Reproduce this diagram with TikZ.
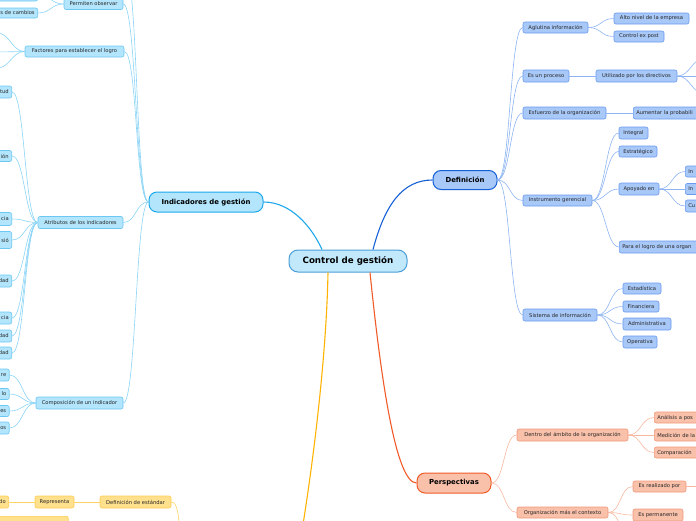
\documentclass[tikz,border=0pt]{standalone}
\usepackage{fontspec}
\setmainfont{DejaVu Sans}
\usetikzlibrary{calc}
\definecolor{txt}{HTML}{262626}
\definecolor{cfill}{HTML}{C2E8FB}
\definecolor{cdraw}{HTML}{4A9FD8}
\definecolor{ifill}{HTML}{B3E5FC}
\definecolor{idraw}{HTML}{6CC8F2}
\definecolor{iline}{HTML}{8AD4F6}
\definecolor{imain}{HTML}{1EA8EC}
\definecolor{dfill}{HTML}{A8C8F8}
\definecolor{ddraw}{HTML}{6A9AF0}
\definecolor{dline}{HTML}{8EB4F2}
\definecolor{dmain}{HTML}{1660D6}
\definecolor{pfill}{HTML}{F9C0AA}
\definecolor{pdraw}{HTML}{F39A7A}
\definecolor{pline}{HTML}{F8B8A0}
\definecolor{pmain}{HTML}{F05A28}
\definecolor{yfill}{HTML}{FFE08C}
\definecolor{ydraw}{HTML}{FFCC55}
\definecolor{yline}{HTML}{FFD466}
\definecolor{ymain}{HTML}{FFB300}
\newcommand\smfnt{\fontsize{5.2}{6}\selectfont}
\newcommand\myL[3]{\draw[#1] (#2.west) .. controls +(-13,0) and +(13,0) .. (#3.east);}
\newcommand\myR[3]{\draw[#1] (#2.east) .. controls +(13,0) and +(-13,0) .. (#3.west);}
\tikzset{
  bx/.style={rectangle, rounded corners=2, line width=0.6, inner xsep=3, inner ysep=0,
    minimum height=11, text=txt, font=\smfnt},
  bi/.style={bx, fill=ifill, draw=idraw},
  bd/.style={bx, fill=dfill, draw=ddraw},
  bp/.style={bx, fill=pfill, draw=pdraw},
  by/.style={bx, fill=yfill, draw=ydraw},
  cutl/.style={anchor=east, text width=40, align=right},
  cutr/.style={anchor=west, text width=90, align=left},
  ci/.style={draw=iline, line width=0.6},
  cd/.style={draw=dline, line width=0.6},
  cp/.style={draw=pline, line width=0.6},
  cy/.style={draw=yline, line width=0.6},
  topbox/.style={rectangle, rounded corners=8, line width=1, inner sep=0, text=black,
    font=\fontsize{6.9}{8}\selectfont\bfseries}
}
\begin{document}
\begin{tikzpicture}[x=1pt,y=-1pt]
\useasboundingbox (0,0) rectangle (696,520);
\clip (0,0) rectangle (696,520);
% central and level 1
\node[topbox, rounded corners=9, fill=cfill, draw=cdraw, minimum width=118, minimum height=22,
  font=\fontsize{8.7}{10}\selectfont\bfseries] (c) at (348,261) {Control de gestión};
\node[topbox, fill=ifill, draw=imain, minimum width=114, minimum height=20] (ind) at (206,202) {Indicadores de gestión};
\node[topbox, fill=dfill, draw=dmain, minimum width=64, minimum height=19] (def) at (465,180) {Definición};
\node[topbox, fill=pfill, draw=pmain, minimum width=74, minimum height=20] (per) at (454,483) {Perspectivas};
\coordinate (yoff) at (295,570);
\draw[imain, line width=1.1] (ind.east) .. controls +(28,0) and +(-10,-22) .. ($(c.north)+(-26,0)$);
\draw[dmain, line width=1.1] ($(c.north)+(25,0)$) .. controls +(12,-45) and +(-30,0) .. (def.west);
\draw[pmain, line width=1.1] ($(c.south)+(22,0)$) .. controls (380,370) and (395,483) .. (per.west);
\draw[ymain, line width=1.1] ($(c.south)+(-20,0)$) .. controls (326,380) and (305,520) .. (yoff);

% Indicadores branch
\node[bi, minimum width=59] (po) at (93.5,4) {Permiten observar};
\node[bi, minimum width=99] (fa) at (74.5,51.5) {Factores para establecer el logro};
\node[bi, minimum width=85, minimum height=12] (at) at (80.5,222.5) {Atributos de los indicadores};
\node[bi, minimum width=87, minimum height=12] (co) at (79.5,403) {Composición de un indicador};
\coordinate (ioff) at (125,-30);
\myL{ci}{ind}{po}
\myL{ci}{ind}{fa}
\myL{ci}{ind}{at}
\myL{ci}{ind}{co}
\draw[ci] (ind.west) .. controls +(-13,0) and +(13,0) .. (ioff);

\node[bi, cutl, minimum height=12] (pt) at (38,-5) {};
\node[bi, cutl, minimum height=10] (ps) at (38,13) {s de cambios};
\myL{ci}{po}{pt}
\myL{ci}{po}{ps}

\coordinate (f1) at (-3,33);
\coordinate (f2) at (-3,52);
\coordinate (f3) at (-3,68);
\foreach \t in {f1,f2,f3} {\draw[ci] (fa.west) .. controls +(-13,0) and +(13,0) .. (\t);}

\node[bi, cutl, minimum height=12] (a1) at (12,92) {tud};
\node[bi, cutl, minimum height=11] (a2) at (12,156) {ión};
\node[bi, cutl, minimum height=13] (a3) at (12,219) {cia};
\node[bi, cutl, minimum height=17] (a4) at (12,240) {sió};
\node[bi, cutl, minimum height=12] (a5) at (12,281) {dad};
\node[bi, cutl, minimum height=12] (a6) at (12,318) {cia};
\node[bi, cutl, minimum height=12] (a7) at (12,336) {dad};
\node[bi, cutl, minimum height=12] (a8) at (12,353) {dad};
\foreach \t in {a1,a2,a3,a4,a5,a6,a7,a8} {\myL{ci}{at}{\t}}

\node[bi, cutl, minimum height=12] (k1) at (9.5,375) {re};
\node[bi, cutl, minimum height=11] (k2) at (9.5,394) {lo};
\node[bi, cutl, minimum height=11] (k3) at (9.5,411) {es};
\node[bi, cutl, minimum height=12] (k4) at (9.5,428) {os};
\foreach \t in {k1,k2,k3,k4} {\myL{ci}{co}{\t}}

% Definicion branch
\node[bd, minimum width=65] (ag) at (555.5,27.5) {Aglutina información};
\node[bd, minimum width=46, minimum height=12] (ep) at (546,76) {Es un proceso};
\node[bd, minimum width=83, minimum height=12] (es) at (564.5,113) {Esfuerzo de la organización};
\node[bd, minimum width=69] (ig) at (557.5,200.5) {Instrumento gerencial};
\node[bd, minimum width=74, minimum height=12] (si) at (560,315) {Sistema de información};
\foreach \t in {ag,ep,es,ig,si} {\myR{cd}{def}{\t}}

\node[bd, minimum width=75] (an) at (651.5,18.5) {Alto nivel de la empresa};
\node[bd, minimum width=50] (ce) at (639,36.5) {Control ex post};
\myR{cd}{ag}{an}
\myR{cd}{ag}{ce}
\node[bd, minimum width=81, minimum height=12] (ut) at (636.5,76) {Utilizado por los directivos};
\myR{cd}{ep}{ut}
\coordinate (u1) at (705,58);
\coordinate (u2) at (705,76);
\coordinate (u3) at (705,94);
\foreach \t in {u1,u2,u3} {\draw[cd] (ut.east) .. controls +(13,0) and +(-13,0) .. (\t);}
\node[bd, cutr, minimum height=12] (au) at (633,113) {Aumentar la probabili};
\myR{cd}{es}{au}

\node[bd, minimum width=29, minimum height=12] (in) at (633.5,133) {Integral};
\node[bd, minimum width=38] (et) at (638,151.5) {Estratégico};
\node[bd, minimum width=40, minimum height=12] (ap) at (639,189) {Apoyado en};
\node[bd, cutr, minimum height=12] (pl) at (619,247) {Para el logro de una organ};
\foreach \t in {in,et,ap,pl} {\myR{cd}{ig}{\t}}
\node[bd, cutr] (i1) at (685,171.5) {In};
\node[bd, cutr] (i2) at (685,189) {In};
\node[bd, cutr, minimum height=12] (i3) at (685,206) {Cu};
\foreach \t in {i1,i2,i3} {\myR{cd}{ap}{\t}}

\node[bd, minimum width=38] (s1) at (642,288.5) {Estadística};
\node[bd, minimum width=36] (s2) at (641,306.5) {Financiera};
\node[bd, minimum width=48, minimum height=12] (s3) at (647,324) {Administrativa};
\node[bd, minimum width=34, minimum height=12] (s4) at (640,342) {Operativa};
\foreach \t in {s1,s2,s3,s4} {\myR{cd}{si}{\t}}

% Perspectivas branch
\node[bp, minimum width=111, minimum height=12] (da) at (572.5,435) {Dentro del ámbito de la organización};
\node[bp, minimum width=91] (om) at (562.5,512.5) {Organización más el contexto};
\myR{cp}{per}{da}
\myR{cp}{per}{om}
\node[bp, cutr] (d1) at (654,417.5) {Análisis a pos};
\node[bp, cutr, minimum height=12] (d2) at (654,435) {Medición de la};
\node[bp, cutr] (d3) at (654,452.5) {Comparación};
\foreach \t in {d1,d2,d3} {\myR{cp}{da}{\t}}
\node[bp, minimum width=53] (er) at (659.5,486.5) {Es realizado por};
\node[bp, minimum width=50, minimum height=12] (pm) at (658,515) {Es permanente};
\myR{cp}{om}{er}
\myR{cp}{om}{pm}
\coordinate (o3) at (633,540);
\draw[cp] (om.east) .. controls +(13,0) and +(-13,0) .. (o3);
\coordinate (e1) at (705,486.5);
\draw[cp] (er.east) -- (e1);

% yellow branch
\node[by, cutl, minimum height=12] (yd) at (9,502) {do};
\node[by, minimum width=39, minimum height=12] (yr) at (54.5,502) {Representa};
\node[by, minimum width=71, minimum height=12] (ye) at (135.5,502) {Definición de estándar};
\node[by, anchor=north west, minimum width=88, minimum height=12] (yb) at (-20,516) {};
\draw[cy] (yr.west) -- (yd.east);
\draw[cy] (ye.west) -- (yr.east);
\coordinate (yp) at (188,562);
\draw[cy] (yp) .. controls +(-13,0) and +(13,0) .. (ye.east);
\end{tikzpicture}
\end{document}
